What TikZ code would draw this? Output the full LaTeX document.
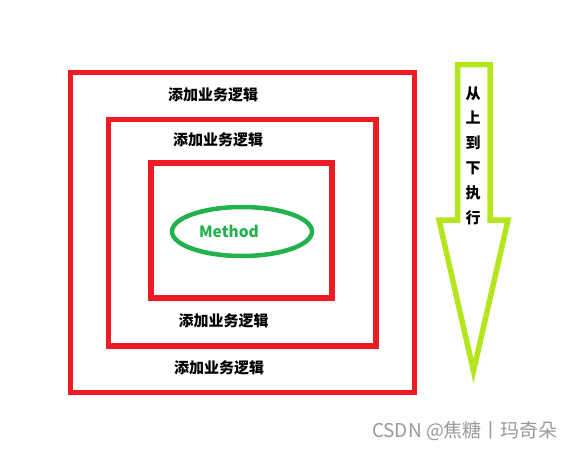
\documentclass[tikz,border=0pt]{standalone}
\usepackage{fontspec}
\newfontfamily\cjk{Noto Sans CJK SC}
\usetikzlibrary{positioning}
\definecolor{boxred}{HTML}{ED1C24}
\definecolor{methodgreen}{HTML}{22B14C}
\definecolor{arrowlime}{HTML}{B5E61D}

\begin{document}
\begin{tikzpicture}[x=1pt, y=-1pt,
    layer/.style={draw=boxred, line width=5.5pt},
    logic/.style={font=\cjk\bfseries\fontsize{15}{15}\selectfont, inner sep=0pt},
    arrowline/.style={draw=arrowlime, line width=5.5pt, line join=miter}]
    \useasboundingbox (0,0) rectangle (572,450);

    % Nested layers
    \draw[layer] (70.5,72.5) rectangle (414.5,392.5);
    \draw[layer] (108.5,119.5) rectangle (376,346);
    \draw[layer] (151,163) rectangle (332,298);

    % Core method
    \draw[methodgreen, line width=4.5pt] (242,231.5) ellipse (70 and 24.5);
    \node[font=\cjk\bfseries\fontsize{15.5}{15.5}\selectfont, text=methodgreen] (method) at (229,231) {Method};

    % Labels
    \node[logic] (outertop) at (213,95) {添加业务逻辑};
    \node[logic] (middletop) at (218,139.5) {添加业务逻辑};
    \node[logic] (middlebottom) at (223.5,321) {添加业务逻辑};
    \node[logic] (outerbottom) at (219,367.5) {添加业务逻辑};

    % Direction arrow
    \draw[arrowline] (457.5,64.5) -- (490,64.5) -- (490,220) -- (508,220) -- (473.5,371)
        -- (439,220) -- (457.5,220) -- cycle;
    \node[logic, align=center, font=\cjk\bfseries\fontsize{15}{24.8}\selectfont] (order) at (473,155.5)
        {从\\上\\到\\下\\执\\行};

    % Watermark
    \node[font=\cjk\fontsize{19}{19}\selectfont, text=black!40] (mark) at (465,431) {CSDN @焦糖丨玛奇朵};
\end{tikzpicture}
\end{document}
